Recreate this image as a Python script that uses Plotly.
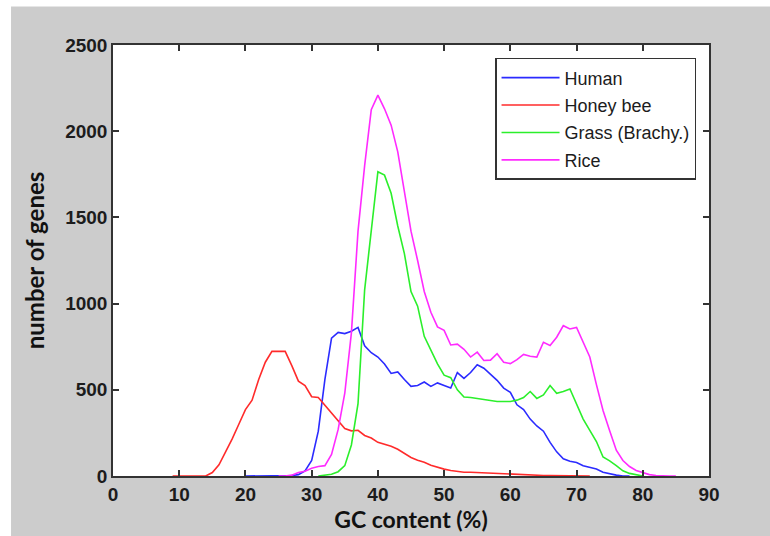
import plotly.graph_objects as go

# ---- data (GC content %, number of genes) ----
human_gc = list(range(20, 79))
human_n = [0, 0, 0, 0, 0, 0, 0, 2, 8, 30,
           90, 260, 560, 800, 833, 826, 840, 862, 755, 715,
           690, 650, 595, 604, 560, 520, 525, 545, 520, 540,
           525, 510, 600, 566, 600, 645, 625, 590, 555, 510,
           485, 413, 385, 330, 290, 260, 195, 140, 100, 85,
           78, 60, 52, 40, 22, 12, 5, 0, 0]

bee_gc = list(range(9, 73))
bee_n = [0, 0, 0, 0, 0, 0, 20, 65, 140, 215,
         300, 385, 440, 560, 660, 723, 723, 723, 640, 550,
         525, 460, 455, 410, 370, 320, 275, 262, 265, 235,
         220, 195, 183, 172, 155, 130, 107, 92, 80, 62,
         50, 40, 32, 25, 22, 22, 20, 18, 15, 14,
         12, 10, 8, 5, 4, 3, 3, 2, 2, 1,
         1, 0, 0, 0]

grass_gc = list(range(31, 81))
grass_n = [0, 5, 10, 25, 60, 180, 420, 1080, 1430, 1765,
           1745, 1640, 1450, 1290, 1070, 985, 810, 730, 650, 585,
           570, 500, 458, 455, 450, 445, 440, 432, 432, 432,
           440, 455, 490, 450, 470, 525, 480, 490, 505, 413,
           330, 265, 200, 110, 88, 60, 30, 15, 8, 0]

rice_gc = list(range(25, 86))
rice_n = [0, 0, 5, 20, 28, 45, 55, 60, 125, 270,
          480, 830, 1420, 1800, 2125, 2209, 2130, 2035, 1880, 1650,
          1420, 1250, 1070, 950, 865, 845, 760, 765, 735, 690,
          718, 670, 672, 709, 660, 652, 675, 705, 695, 690,
          776, 757, 805, 872, 853, 862, 780, 690, 530, 380,
          262, 150, 90, 55, 32, 18, 8, 3, 0, 0,
          0]

x_ticks = [0, 10, 20, 30, 40, 50, 60, 70, 80, 90]
y_ticks = [0, 500, 1000, 1500, 2000, 2500]

series = [
    ("Human", human_gc, human_n, "#2b2bff"),
    ("Honey bee", bee_gc, bee_n, "#ff2b2b"),
    ("Grass (Brachy.)", grass_gc, grass_n, "#2bef2b"),
    ("Rice", rice_gc, rice_n, "#ff2bff"),
]

fig = go.Figure()
for i, (name, xs, ys, col) in enumerate(series):
    fig.add_trace(go.Scatter(x=xs, y=ys, mode="lines", name=name,
                             legendgroup=f"g{i}",
                             line=dict(color=col, width=1.6)))

tick_font = dict(family="Liberation Sans Narrow, Arial Narrow, Liberation Sans, Arial",
                 size=19, color="#1c1c1c", weight="bold")
axis_common = dict(showline=True, linecolor="#333333", linewidth=1.5,
                   mirror="ticks", ticks="inside", ticklen=6, tickwidth=1.5,
                   tickcolor="#333333", showgrid=False, zeroline=False,
                   tickfont=tick_font)

fig.update_xaxes(range=[0, 90], tickvals=x_ticks, ticktext=[str(v) for v in x_ticks],
                 title=dict(text="GC content (%)", standoff=3,
                            font=dict(family="Lato, Open Sans, sans-serif", size=23,
                                      color="#111111", weight="bold")),
                 **axis_common)
fig.update_yaxes(range=[0, 2500], tickvals=y_ticks, ticktext=[str(v) for v in y_ticks],
                 title=dict(text="number of genes", standoff=14,
                            font=dict(family="Lato, Open Sans, sans-serif", size=24,
                                      color="#111111", weight="bold")),
                 **axis_common)

fig.update_layout(
    width=770, height=536,
    margin=dict(l=113, r=61, t=45, b=54, pad=0),
    paper_bgcolor="#cccccc", plot_bgcolor="white",
    showlegend=True,
    legend=dict(x=0.641, y=0.970, xanchor="left", yanchor="top",
                bgcolor="white", bordercolor="#333333", borderwidth=1.5,
                font=dict(family="Liberation Sans, Arial", size=18, color="#1c1c1c"),
                tracegroupgap=1, itemwidth=58),
    shapes=[
        dict(type="rect", xref="paper", yref="paper", x0=-0.3, x1=1.2,
             y0=1.0892, y1=1.2, fillcolor="white", line=dict(width=0), layer="below"),
        dict(type="rect", xref="paper", yref="paper", x0=-0.3, x1=-0.1711,
             y0=-0.2, y1=1.2, fillcolor="white", line=dict(width=0), layer="below"),
    ],
)

fig.write_html("out.html")
